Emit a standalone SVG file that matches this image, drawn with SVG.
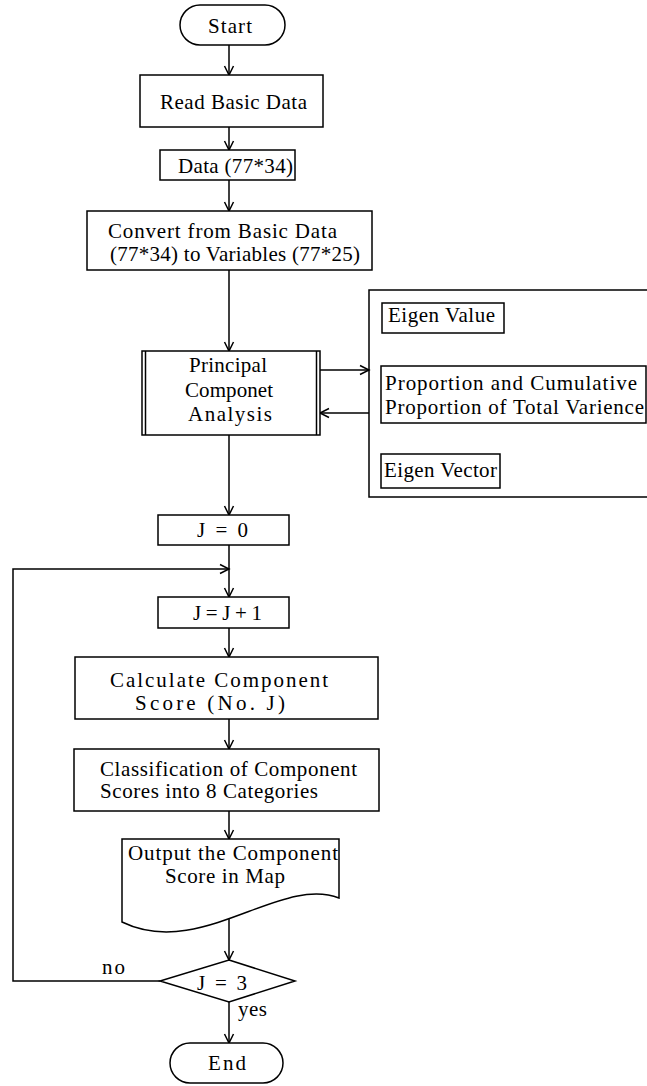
<svg xmlns="http://www.w3.org/2000/svg" width="647" height="1086" viewBox="0 0 647 1086">
<style>
.n{fill:#fff;stroke:#000;stroke-width:1.5}
.l{fill:none;stroke:#000;stroke-width:1.5}
.c{fill:none;stroke:#000;stroke-width:1.5}
text{font-family:"Liberation Serif","Times New Roman",serif;font-size:21px;fill:#000}
</style>
<defs>
<marker id="a" markerUnits="userSpaceOnUse" markerWidth="12" markerHeight="12" refX="9" refY="4.5" orient="auto" overflow="visible">
<path d="M0,0 L9,4.5 L0,9" fill="none" stroke="#000" stroke-width="1.5"/>
</marker>
</defs>
<rect width="647" height="1086" fill="#fff"/>
<g id="connectors">
<path class="c" d="M229,45 V75" marker-end="url(#a)"/>
<path class="c" d="M229,127 V150" marker-end="url(#a)"/>
<path class="c" d="M229,180 V211" marker-end="url(#a)"/>
<path class="c" d="M229,270 V351" marker-end="url(#a)"/>
<path class="c" d="M320,370 H369" marker-end="url(#a)"/>
<path class="c" d="M369,413 H320" marker-end="url(#a)"/>
<path class="c" d="M229,435 V515" marker-end="url(#a)"/>
<path class="c" d="M229,545 V597" marker-end="url(#a)"/>
<path class="c" d="M229,628 V657" marker-end="url(#a)"/>
<path class="c" d="M229,719 V749" marker-end="url(#a)"/>
<path class="c" d="M229,811 V839" marker-end="url(#a)"/>
<path class="c" d="M229,917 V960" marker-end="url(#a)"/>
<path class="c" d="M229,1002 V1043" marker-end="url(#a)"/>
<path class="c" d="M160,981 H13 V569 H229" marker-end="url(#a)"/>
<text x="102" y="974" textLength="23">no</text>
<text x="238" y="1016" textLength="29">yes</text>
</g>
<g id="start">
<rect class="n" x="180" y="5" width="105" height="40" rx="20"/>
<text x="208" y="33" textLength="44">Start</text>
</g>
<g id="read">
<rect class="n" x="140" y="75" width="183" height="52"/>
<text x="160" y="109" textLength="147">Read Basic Data</text>
</g>
<g id="data">
<rect class="n" x="160" y="150" width="135" height="30"/>
<text x="178" y="173" textLength="115">Data (77*34)</text>
</g>
<g id="convert">
<rect class="n" x="87" y="211" width="285" height="59"/>
<text x="108" y="238" textLength="229">Convert from Basic Data</text>
<text x="110" y="261" textLength="250">(77*34) to Variables (77*25)</text>
</g>
<g id="pca">
<rect class="n" x="142" y="351" width="178" height="84"/>
<path class="l" d="M145.5,351 V435 M316.5,351 V435"/>
<text x="189" y="372" textLength="78">Principal</text>
<text x="185" y="397" textLength="88">Componet</text>
<text x="188" y="421" textLength="84">Analysis</text>
</g>
<g id="results">
<path class="l" d="M647,290 H369 V497 H647"/>
<g id="eigenvalue">
<rect class="n" x="382" y="303" width="122" height="30"/>
<text x="388" y="322" textLength="107">Eigen Value</text>
</g>
<g id="proportion">
<rect class="n" x="381" y="366" width="265" height="57"/>
<text x="385" y="390" textLength="252">Proportion and Cumulative</text>
<text x="385" y="414" textLength="259">Proportion of Total Varience</text>
</g>
<g id="eigenvector">
<rect class="n" x="381" y="454" width="119" height="34"/>
<text x="384" y="477" textLength="113">Eigen Vector</text>
</g>
</g>
<g id="j0">
<rect class="n" x="158" y="515" width="131" height="30"/>
<text x="197" y="537" textLength="51">J=0</text>
</g>
<g id="j1">
<rect class="n" x="158" y="597" width="131" height="31"/>
<text x="193" y="620" textLength="69">J=J+1</text>
</g>
<g id="calc">
<rect class="n" x="75" y="657" width="303" height="62"/>
<text x="110" y="687" textLength="218">Calculate Component</text>
<text x="135" y="710" textLength="150">Score (No. J)</text>
</g>
<g id="classify">
<rect class="n" x="74" y="749" width="305" height="62"/>
<text x="100" y="776" textLength="257">Classification of Component</text>
<text x="100" y="798" textLength="218">Scores into 8 Categories</text>
</g>
<g id="output">
<path class="n" d="M122,839 H339 V898 C280,875 200,960 122,922 Z"/>
<text x="128" y="860" textLength="210">Output the Component</text>
<text x="165" y="883" textLength="120">Score in Map</text>
</g>
<g id="decision">
<polygon class="n" points="229,960 295,981 229,1002 160,981"/>
<text x="197" y="990" textLength="50">J=3</text>
</g>
<g id="end">
<rect class="n" x="170" y="1043" width="113" height="40" rx="20"/>
<text x="208" y="1070" textLength="38">End</text>
</g>
</svg>
